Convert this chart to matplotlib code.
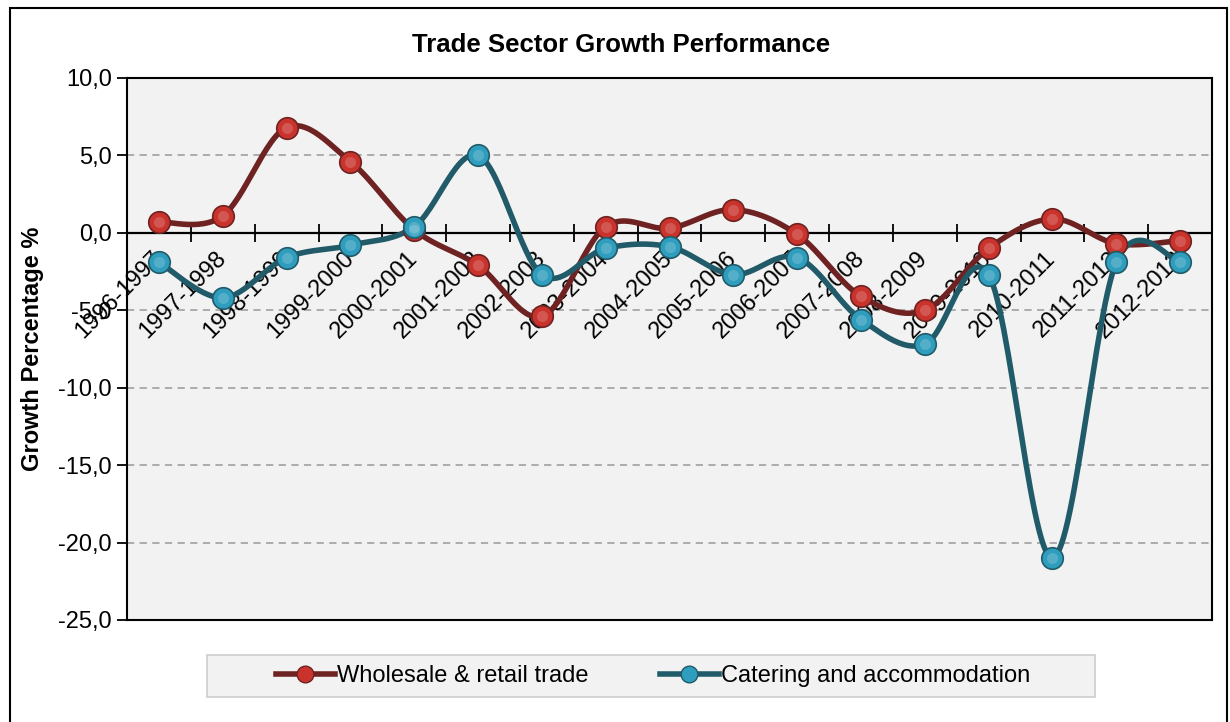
import matplotlib
matplotlib.use('Agg')
import matplotlib.pyplot as plt
import matplotlib.ticker as ticker
from matplotlib.lines import Line2D
from matplotlib.patches import Rectangle
import numpy as np

plt.rcParams['font.family'] = ['Liberation Sans', 'DejaVu Sans']

# data
periods = ['1996-1997', '1997-1998', '1998-1999', '1999-2000', '2000-2001',
           '2001-2002', '2002-2003', '2003-2004', '2004-2005', '2005-2006',
           '2006-2007', '2007-2008', '2008-2009', '2009-2010', '2010-2011',
           '2011-2012', '2012-2013']
wholesale = [0.7, 1.1, 6.8, 4.6, 0.2, -2.1, -5.4, 0.4, 0.3, 1.5,
             -0.1, -4.1, -5.0, -1.0, 0.9, -0.7, -0.5]
catering = [-1.9, -4.2, -1.6, -0.8, 0.4, 5.0, -2.7, -1.0, -0.9, -2.7,
            -1.6, -5.6, -7.2, -2.7, -21.0, -1.9, -1.9]

RED_LINE = '#6e2222'
RED_DOT = '#c9332c'
TEAL_LINE = '#215b69'
TEAL_DOT = '#2f9dbd'


def smooth(xs, ys, n=30):
    ''' excel-like smoothed line: bezier segments with catmull-rom handles '''
    xs = np.asarray(xs, float)
    ys = np.asarray(ys, float)
    px = np.concatenate([[xs[0]], xs, [xs[-1]]])
    py = np.concatenate([[ys[0]], ys, [ys[-1]]])
    out_x, out_y = [], []
    t = np.linspace(0, 1, n)
    for i in range(1, len(px) - 2):
        p0 = np.array([px[i], py[i]])
        p3 = np.array([px[i + 1], py[i + 1]])
        c1 = p0 + (np.array([px[i + 1], py[i + 1]]) - np.array([px[i - 1], py[i - 1]])) / 6
        c2 = p3 - (np.array([px[i + 2], py[i + 2]]) - np.array([px[i], py[i]])) / 6
        b = ((1 - t) ** 3)[:, None] * p0 + (3 * (1 - t) ** 2 * t)[:, None] * c1 \
            + (3 * (1 - t) * t ** 2)[:, None] * c2 + (t ** 3)[:, None] * p3
        out_x.extend(b[:, 0])
        out_y.extend(b[:, 1])
    return out_x, out_y


fig = plt.figure(figsize=(12.3, 7.22), dpi=100)
ax = fig.add_axes([0.1033, 0.1413, 0.8821, 0.7507])
ax.set_facecolor('#f2f2f2')

x = np.arange(len(periods))
ax.set_xlim(-0.5, len(periods) - 0.5)
ax.set_ylim(-25, 10)

for yv in [5, -5, -10, -15, -20]:
    ax.axhline(yv, color='#a6a6a6', lw=1.3, ls=(0, (4, 3)), zorder=1)
ax.axhline(0, color='black', lw=1.6, zorder=2)

for vals, lc, dc in [(wholesale, RED_LINE, RED_DOT), (catering, TEAL_LINE, TEAL_DOT)]:
    sx, sy = smooth(x, vals)
    ax.plot(sx, sy, color=lc, lw=4, solid_capstyle='round', zorder=3)
    ax.plot(x, vals, ls='none', marker='o', ms=15.5, mfc=dc, mec=lc, mew=1.2, zorder=4)
    ax.plot(x, vals, ls='none', marker='o', ms=8, mfc='white', mec='none', alpha=0.18, zorder=5)

# y axis
ax.yaxis.set_major_locator(ticker.MultipleLocator(5))
ax.yaxis.set_major_formatter(ticker.FuncFormatter(lambda v, p: '{:.1f}'.format(v).replace('.', ',')))
ax.tick_params(axis='y', direction='out', length=7, width=1.3, labelsize=17, pad=4)
ax.set_ylabel('Growth Percentage %', fontsize=17, fontweight='bold', labelpad=10)
for s in ax.spines.values():
    s.set_linewidth(1.5)
    s.set_color('black')

# category axis sits at y=0, drawn under the series
ax.tick_params(axis='x', which='both', bottom=False, labelbottom=False)
sec = ax.secondary_xaxis(25 / 35)
sec.set_alignment('bottom')
sec.set_zorder(2.5)
sec.spines['bottom'].set_visible(False)
sec.spines['top'].set_visible(False)
sec.set_xticks(np.arange(len(periods) + 1) - 0.5)
sec.set_xticklabels([])
sec.set_xticks(x, minor=True)
sec.set_xticklabels(periods, minor=True, rotation=45, ha='right', va='center',
                    rotation_mode='anchor', fontsize=17)
sec.tick_params(axis='x', which='major', direction='inout', length=13, width=1.3)
sec.tick_params(axis='x', which='minor', length=0, pad=16)

fig.text(0.5053, 0.9377, 'Trade Sector Growth Performance', ha='center', va='center',
         fontsize=18.5, fontweight='bold')

# legend box
fig.patches.append(Rectangle((207 / 1230, 1 - 697 / 722), 888 / 1230, 42 / 722,
                             transform=fig.transFigure, facecolor='#f2f2f2',
                             edgecolor='#d0d0d0', lw=1.3))
handles = [Line2D([], [], color=RED_LINE, lw=4, marker='o', ms=12, mfc=RED_DOT, mec=RED_LINE),
           Line2D([], [], color=TEAL_LINE, lw=4, marker='o', ms=12, mfc=TEAL_DOT, mec=TEAL_LINE)]
fig.legend(handles, ['Wholesale & retail trade', 'Catering and accommodation'],
           loc='center', bbox_to_anchor=(0.531, 1 - 676 / 722), ncol=2, frameon=False,
           fontsize=17, handlelength=2.5, handletextpad=0.1, columnspacing=3.0)

# outer chart border
fig.patches.append(Rectangle((10 / 1230, -0.01), 1217 / 1230, 1.01 - 8 / 722,
                             transform=fig.transFigure, facecolor='none',
                             edgecolor='black', lw=1.5))

fig.savefig('out.png', dpi=100)
